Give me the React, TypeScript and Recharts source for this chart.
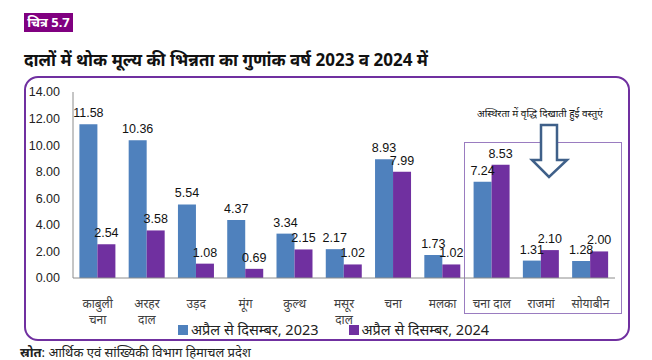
import { BarChart, Bar, XAxis, YAxis, LabelList } from "recharts";

const CATEGORIES = ["काबुली चना", "अरहर दाल", "उड़द", "मूंग", "कुल्थ", "मसूर दाल", "चना", "मलका", "चना दाल", "राजमां", "सोयाबीन"];
const SINGLE_LINE = ["चना दाल"];
const SERIES_2023 = [11.58, 10.36, 5.54, 4.37, 3.34, 2.17, 8.93, 1.73, 7.24, 1.31, 1.28];
const SERIES_2024 = [2.54, 3.58, 1.08, 0.69, 2.15, 1.02, 7.99, 1.02, 8.53, 2.1, 2.0];
const Y_TICKS = [0, 2, 4, 6, 8, 10, 12, 14];
const LEGEND = ["अप्रैल से दिसम्बर, 2023", "अप्रैल से दिसम्बर, 2024"];

const BLUE = "#4F81BD";
const PURPLE = "#7030A0";
const NUM_FONT = "'Liberation Sans', Arial, sans-serif";

const data = CATEGORIES.map((name, i) => ({ name, y2023: SERIES_2023[i], y2024: SERIES_2024[i] }));

// category labels wrap onto two lines like the source, except "चना दाल"
function CategoryTick({ x, y, payload }: any) {
  const label: string = payload.value;
  const lines = SINGLE_LINE.includes(label) ? [label] : label.split(" ");
  return (
    <g>
      {lines.map((l, i) => (
        <text key={i} x={x} y={y + 22 + i * 16} textAnchor="middle" fill="#404040" fontSize={12}>
          {l}
        </text>
      ))}
    </g>
  );
}

export default function App() {
  return (
    <div style={{ position: "absolute", left: 0, top: 0, width: 652, height: 360, background: "#fff", fontFamily: "'Noto Sans', sans-serif" }}>
      <div style={{ position: "absolute", left: 24, top: 13, width: 49, height: 19, background: "#800080", color: "#fff", fontSize: 13, fontWeight: 700, lineHeight: "19px", textAlign: "center", whiteSpace: "nowrap" }}>
        चित्र 5.7
      </div>
      <div style={{ position: "absolute", left: 24, top: 48, fontSize: 17, fontWeight: 700, color: "#111", whiteSpace: "nowrap" }}>
        दालों में थोक मूल्य की भिन्नता का गुणांक वर्ष 2023 व 2024 में
      </div>
      <div style={{ position: "absolute", left: 24, top: 76, width: 606, height: 265, border: `2px solid ${PURPLE}`, borderRadius: 14, boxSizing: "border-box" }} />
      <div style={{ position: "absolute", left: 464, top: 142, width: 158, height: 172, border: "1.5px solid #9A7CC0", boxSizing: "border-box" }} />
      <div style={{ position: "absolute", left: 477, top: 106, fontSize: 10, color: "#111", whiteSpace: "nowrap" }}>
        अस्थिरता में वृद्धि दिखाती हुई वस्तुएं
      </div>
      <svg style={{ position: "absolute", left: 0, top: 0 }} width={652} height={360}>
        <polygon points="541,125 557,125 557,160 567,160 549,177 532,160 541,160" fill="#fff" stroke="#3F6089" strokeWidth={2.5} strokeLinejoin="miter" />
      </svg>
      <div style={{ position: "absolute", left: 0, top: 0 }}>
        <BarChart width={652} height={360} data={data} margin={{ top: 92, right: 37, bottom: 0, left: 0 }} barCategoryGap="13%" barGap={0}>
          <XAxis dataKey="name" interval={0} tickLine={false} axisLine={{ stroke: "#8C8C8C" }} tick={<CategoryTick />} height={82} />
          <YAxis
            width={73}
            domain={[0, 14]}
            ticks={Y_TICKS}
            interval={0}
            tickFormatter={(v: number) => v.toFixed(2)}
            tickLine={false}
            tickMargin={7}
            axisLine={{ stroke: "#8C8C8C" }}
            tick={{ fill: "#222", fontSize: 12.5, fontFamily: NUM_FONT }}
          />
          <Bar dataKey="y2023" fill={BLUE} isAnimationActive={false}>
            <LabelList dataKey="y2023" position="top" offset={7} formatter={(v: number) => v.toFixed(2)} fill="#111" fontSize={12.5} fontFamily={NUM_FONT} />
          </Bar>
          <Bar dataKey="y2024" fill={PURPLE} isAnimationActive={false}>
            <LabelList dataKey="y2024" position="top" offset={7} formatter={(v: number) => v.toFixed(2)} fill="#111" fontSize={12.5} fontFamily={NUM_FONT} />
          </Bar>
        </BarChart>
      </div>
      <div style={{ position: "absolute", left: 178, top: 321, height: 17, display: "flex", alignItems: "center", fontSize: 14.5, lineHeight: "17px", color: "#222", whiteSpace: "nowrap" }}>
        {LEGEND.map((t, i) => (
          <span key={t} style={{ display: "flex", alignItems: "center", marginRight: i === 0 ? 30 : 0 }}>
            <span style={{ display: "inline-block", width: 10, height: 10, background: i === 0 ? BLUE : PURPLE, marginRight: 3 }} />
            {t}
          </span>
        ))}
      </div>
      <div style={{ position: "absolute", left: 20, top: 344, fontSize: 13, lineHeight: "16px", color: "#222", whiteSpace: "nowrap" }}>
        <b>स्रोत</b>: आर्थिक एवं सांख्यिकी विभाग हिमाचल प्रदेश
      </div>
    </div>
  );
}
